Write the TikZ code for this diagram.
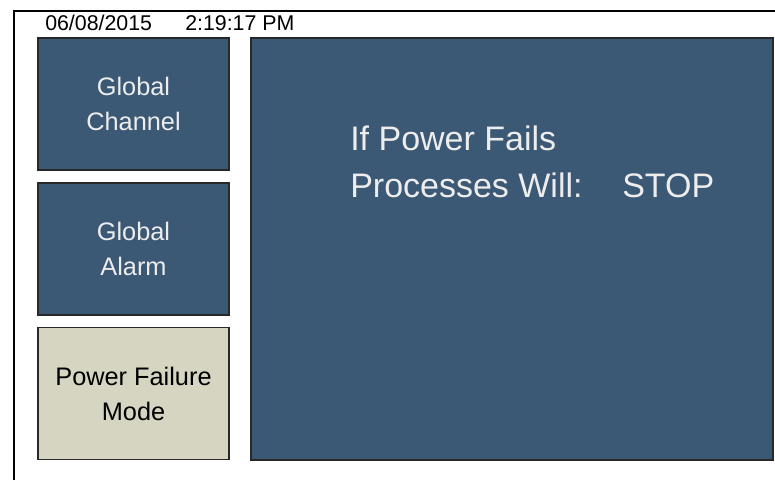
\documentclass[tikz,border=0pt]{standalone}
\usepackage{fontspec}
\setmainfont{Liberation Sans}
\definecolor{panelblue}{RGB}{59,88,117}
\definecolor{modebeige}{RGB}{214,213,193}
\definecolor{edgegray}{RGB}{40,40,40}
\tikzset{
  tile/.style={draw=edgegray, line width=1.2pt, fill=panelblue, text=white!93!black,
    minimum width=143.25pt, minimum height=99pt, inner sep=0pt, align=center,
    font=\fontsize{19}{26.25}\selectfont},
  bigtext/.style={text=white!93!black, inner sep=0pt, anchor=base west,
    font=\fontsize{25.5}{30}\selectfont},
  stamp/.style={inner sep=0pt, anchor=base west, font=\fontsize{16}{18}\selectfont}
}

\begin{document}
\begin{tikzpicture}[x=0.75pt,y=-0.75pt]
\useasboundingbox (0,0) rectangle (775,480);
% outer frame
\draw[line width=1.5pt] (14,480) -- (14,11) -- (775,11);
% date and time
\node[stamp] (date) at (45,30) {06/08/2015};
\node[stamp] (time) at (185,30) {2:19:17 PM};
% left column
\node[tile] (chan) at (133.5,104) {Global\\Channel};
\node[tile] (alarm) at (133.5,249) {Global\\Alarm};
\node[tile, fill=modebeige, text=black] (mode) at (133.5,393.5) {Power Failure\\Mode};
% main panel
\node[tile, minimum width=391.5pt, minimum height=316.5pt] (panel) at (512,249) {};
\fill[white] (669,12.5) rectangle (775,37.2);
\node[bigtext] (fails) at (350,150) {If Power Fails};
\node[bigtext] (will) at (350,197) {Processes Will:};
\node[bigtext] (stop) at (622,197) {STOP};
\end{tikzpicture}
\end{document}
